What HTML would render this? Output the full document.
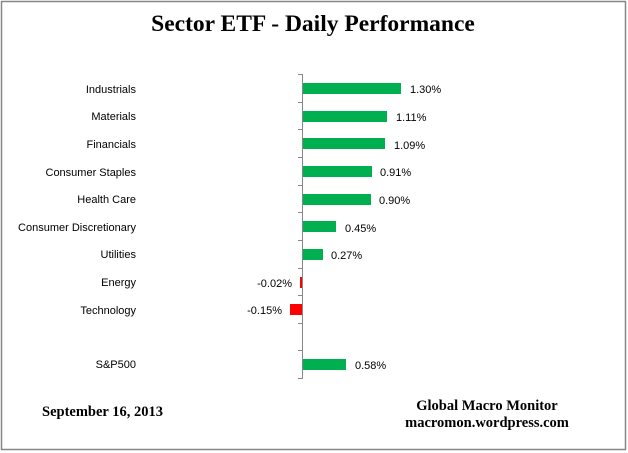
<!DOCTYPE html>
<html><head><style>
body{margin:0;background:#fff;}
svg{display:block;}
</style></head><body>
<svg width="628" height="453" xmlns="http://www.w3.org/2000/svg">
<rect x="0" y="0" width="628" height="453" fill="#fff"/>
<rect x="1.5" y="1.5" width="624" height="448" fill="none" stroke="#878787" stroke-width="1.5"/>
<text x="313" y="31" text-anchor="middle" font-family="Liberation Serif, serif" font-weight="bold" font-size="23.5">Sector ETF - Daily Performance</text>
<g stroke="#888" stroke-width="1">
<line x1="302.5" y1="74" x2="302.5" y2="378"/>
<line x1="298" y1="74.5" x2="303" y2="74.5"/>
<line x1="298" y1="102.5" x2="303" y2="102.5"/>
<line x1="298" y1="129.5" x2="303" y2="129.5"/>
<line x1="298" y1="157.5" x2="303" y2="157.5"/>
<line x1="298" y1="185.5" x2="303" y2="185.5"/>
<line x1="298" y1="212.5" x2="303" y2="212.5"/>
<line x1="298" y1="240.5" x2="303" y2="240.5"/>
<line x1="298" y1="268.5" x2="303" y2="268.5"/>
<line x1="298" y1="295.5" x2="303" y2="295.5"/>
<line x1="298" y1="323.5" x2="303" y2="323.5"/>
<line x1="298" y1="350.5" x2="303" y2="350.5"/>
<line x1="298" y1="378.5" x2="303" y2="378.5"/>
</g>
<g fill="#00B050">
<rect x="303" y="83" width="98" height="11"/>
<rect x="303" y="111" width="84" height="11"/>
<rect x="303" y="138" width="82" height="11"/>
<rect x="303" y="166" width="69" height="11"/>
<rect x="303" y="194" width="68" height="11"/>
<rect x="303" y="221" width="33" height="11"/>
<rect x="303" y="249" width="20" height="11"/>
<rect x="303" y="359" width="43" height="11"/>
</g>
<g fill="#FF0000">
<rect x="300" y="277" width="2" height="11"/>
<rect x="290" y="304" width="12" height="11"/>
</g>
<g font-family="Liberation Sans, sans-serif" font-size="11" fill="#000" text-anchor="end">
<text x="136" y="93">Industrials</text>
<text x="136" y="120">Materials</text>
<text x="136" y="148">Financials</text>
<text x="136" y="176">Consumer Staples</text>
<text x="136" y="203">Health Care</text>
<text x="136" y="231">Consumer Discretionary</text>
<text x="136" y="258">Utilities</text>
<text x="136" y="286">Energy</text>
<text x="136" y="314">Technology</text>
<text x="136" y="368">S&amp;P500</text>
<text x="292" y="287">-0.02%</text>
<text x="282" y="314">-0.15%</text>
</g>
<g font-family="Liberation Sans, sans-serif" font-size="11" fill="#000">
<text x="410" y="93">1.30%</text>
<text x="396" y="121">1.11%</text>
<text x="394" y="149">1.09%</text>
<text x="380" y="176">0.91%</text>
<text x="379" y="204">0.90%</text>
<text x="345" y="232">0.45%</text>
<text x="331" y="259">0.27%</text>
<text x="355" y="369">0.58%</text>
</g>
<g font-family="Liberation Serif, serif" font-weight="bold" font-size="14.5" fill="#000">
<text x="42" y="416">September 16, 2013</text>
<text x="487" y="410" text-anchor="middle">Global Macro Monitor</text>
<text x="487" y="427" text-anchor="middle">macromon.wordpress.com</text>
</g>
</svg>
</body></html>
